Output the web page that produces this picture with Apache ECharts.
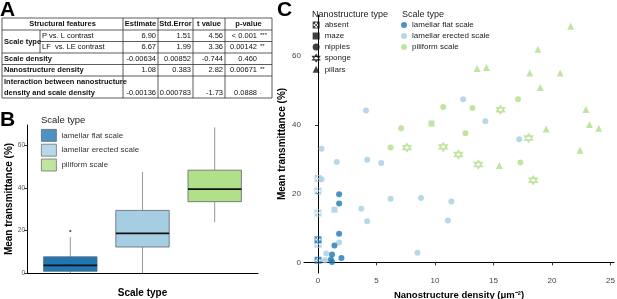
<!DOCTYPE html>
<html>
<head>
<meta charset="utf-8">
<script src="https://cdn.jsdelivr.net/npm/echarts@6/dist/echarts.min.js"></script>
<style>
  html, body { margin: 0; padding: 0; background: #fff; }
  #chart { width: 617px; height: 299px; }
</style>
</head>
<body>
<div id="chart"></div>
<script>
const FONT = '"Liberation Sans", Arial, sans-serif'

// ---- A: model table ----
const tableHeader = ['Structural features', 'Estimate', 'Std.Error', 't value', 'p-value']
const rowLabels = ['P vs. L contrast', 'LF  vs. LE contrast', 'Scale density', 'Nanostructure density', 'Interaction between nanostructure', 'density and scale density']
const estimates = ['6.90', '6.67', '-0.00634', '1.08', '-0.00136']
const stdErrors = ['1.51', '1.99', '0.00852', '0.383', '0.000783']
const tValues = ['4.56', '3.36', '-0.744', '2.82', '-1.73']
const pValues = ['< 0.001', '0.00142', '0.460', '0.00671', '0.0888']
const signif = ['***', '**', '', '**', '.']

// ---- B: boxplot ----
const scaleTypes = ['lamellar flat scale', 'lamellar erected scale', 'piliform scale']
const scaleColors = ['#1f78b4', '#a6cee3', '#b2df8a']
// [lower whisker, Q1, median, Q3, upper whisker]
const boxStats = [
  [0, 0.8, 3.6, 7.6, 17],
  [0, 12.2, 18.6, 29.4, 47.4],
  [23.9, 33.5, 39.4, 48.3, 68.4],
]
const boxOutliers = [[1, 19.7]]

// ---- C: scatter, [density, transmittance] ----
const flatAbsent = [[0, 6.6], [0, 0.6]]
const flatNipples = [[1.8, 19.8], [1.8, 17.1], [1.8, 8.3], [1.4, 4.9], [1.2, 2.3], [1.1, 0.8], [1.2, 0.1], [2.0, 1.3]]
const erectedAbsent = [[0, 24.4], [0, 20.8], [0, 14.4], [0, 5.3]]
const erectedMaze = [[1.4, 15.3]]
const erectedNipples = [[0.3, 33.1], [4.1, 44.2], [12.4, 47.5], [14.3, 41.1], [17.2, 35.8], [1.6, 29.2], [4.2, 29.9], [5.4, 28.9],
  [0.3, 24.2], [6.2, 18.5], [8.8, 18.7], [11.4, 17.7], [3.7, 15.6], [4.2, 12.0], [11.1, 12.2], [1.8, 5.8], [0.7, 2.6], [8.5, 2.8], [0.6, 0.6]]
const piliformMaze = [[9.7, 40.4]]
const piliformNipples = [[17.1, 47.5], [10.7, 45.2], [13.2, 44.9], [7.1, 39.0], [12.6, 37.6], [6.2, 33.4], [17.3, 29.1]]
const piliformSponge = [[15.6, 44.4], [18.0, 36.2], [7.6, 33.4], [10.7, 33.6], [12.0, 31.4], [13.7, 28.5], [18.4, 23.9]]
const piliformPillars = [[21.6, 68.7], [18.8, 62.0], [13.6, 56.4], [14.4, 56.7], [18.1, 55.1], [20.7, 55.1], [19.0, 50.9],
  [22.9, 44.5], [19.5, 38.8], [23.2, 40.1], [24.0, 39.0], [22.4, 32.6], [15.5, 28.2]]

const ABSENT = 'path://M0 0L12 0L12 12L0 12Z M4.5 1.5L4.5 4.5L7.5 4.5L7.5 1.5Z M1.5 4.5L1.5 7.5L4.5 7.5L4.5 4.5Z M7.5 4.5L7.5 7.5L10.5 7.5L10.5 4.5Z M4.5 7.5L4.5 10.5L7.5 10.5L7.5 7.5Z'
const SPONGE = 'path://M6 0L12 9L0 9Z M0 3L12 3L6 12Z'

// table drawn with graphic elements
const colX = [2, 40, 123, 158, 193, 225, 272]
const rowY = [18, 30, 41.5, 53, 64.5, 76, 98]
const table = []
const LINE = { stroke: '#333', lineWidth: 0.8 }
function hline(y, x1, x2) { table.push({ type: 'line', shape: { x1, y1: y, x2, y2: y }, style: LINE }) }
function vline(x, y1, y2) { table.push({ type: 'line', shape: { x1: x, y1, x2: x, y2 }, style: LINE }) }
function txt(text, x, y, extra) {
  table.push({
    type: 'text', x, y,
    style: Object.assign({ text, fontSize: 7.5, fontFamily: FONT, fill: '#111', align: 'left', verticalAlign: 'middle',
      textAlign: 'left', textVerticalAlign: 'middle' }, extra),
  })
}
const bold = { fontWeight: 'bold' }
const right = { align: 'right', textAlign: 'right' }
const center = { align: 'center', textAlign: 'center', fontWeight: 'bold' }

rowY.forEach((y, i) => {
  if (i === 2) hline(y, colX[1], colX[6])
  else hline(y, colX[0], colX[6])
})
vline(colX[0], rowY[0], rowY[6])
vline(colX[1], rowY[1], rowY[3])
for (let c = 2; c < colX.length; c++) vline(colX[c], rowY[0], rowY[6])

txt(tableHeader[0], (colX[0] + colX[2]) / 2, 24, center)
for (let c = 1; c < 5; c++) txt(tableHeader[c], (colX[c + 1] + colX[c + 2]) / 2, 24, center)
txt('Scale type', 4, rowY[2], bold)
txt(rowLabels[0], 42, 36)
txt(rowLabels[1], 42, 47.3)
txt(rowLabels[2], 4, 58.8, bold)
txt(rowLabels[3], 4, 70.3, bold)
txt(rowLabels[4], 4, 82, bold)
txt(rowLabels[5], 4, 93, bold)
const valueY = [36, 47.3, 58.8, 70.3, 93]
valueY.forEach((y, r) => {
  txt(estimates[r], colX[3] - 2, y, right)
  txt(stdErrors[r], colX[4] - 2, y, right)
  txt(tValues[r], colX[5] - 2, y, right)
  txt(pValues[r], 257, y, right)
  if (signif[r]) txt(signif[r], 260, y - 1, { fontSize: 6 })
})

const texts = [
  { type: 'text', x: 0, y: 0, style: { text: 'A', fontSize: 21, fontWeight: 'bold', fontFamily: FONT, fill: '#000' } },
  { type: 'text', x: 0, y: 110, style: { text: 'B', fontSize: 21, fontWeight: 'bold', fontFamily: FONT, fill: '#000' } },
  { type: 'text', x: 277, y: 0, style: { text: 'C', fontSize: 21, fontWeight: 'bold', fontFamily: FONT, fill: '#000' } },
  { type: 'text', x: 41, y: 115, style: { text: 'Scale type', fontSize: 9.5, fontFamily: FONT, fill: '#222' } },
  { type: 'text', x: 312, y: 10, style: { text: 'Nanostructure type', fontSize: 9, fontFamily: FONT, fill: '#222' } },
  { type: 'text', x: 402, y: 10, style: { text: 'Scale type', fontSize: 9, fontFamily: FONT, fill: '#222' } },
]

function pts(list, scaleIdx) {
  return list.map(v => ({ value: v, itemStyle: { color: scaleColors[scaleIdx] } }))
}

const axisLine = { show: true, lineStyle: { color: '#000', width: 1 } }
const boxWidthUnits = 0.74

const chart = echarts.init(document.getElementById('chart'))
chart.setOption({
  animation: false,
  textStyle: { fontFamily: FONT },
  graphic: { elements: table.concat(texts) },
  legend: [
    {
      orient: 'vertical', left: 41, top: 129, padding: 0, itemWidth: 15, itemHeight: 12, itemGap: 2,
      textStyle: { fontSize: 8, color: '#333' },
      data: scaleTypes.map((n, i) => ({ name: n, icon: 'rect', itemStyle: { color: scaleColors[i], borderColor: '#555', borderWidth: 0.8 } })),
    },
    {
      orient: 'vertical', left: 312, top: 21, padding: 0, itemWidth: 7, itemHeight: 7, itemGap: 3,
      textStyle: { fontSize: 8, color: '#222' },
      data: [
        { name: 'absent', icon: ABSENT, itemStyle: { color: '#111' } },
        { name: 'maze', icon: 'rect', itemStyle: { color: '#111' } },
        { name: 'nipples', icon: 'circle', itemStyle: { color: '#111' } },
        { name: 'sponge', icon: SPONGE, itemStyle: { color: 'transparent', borderColor: '#111', borderWidth: 1.3 } },
        { name: 'pillars', icon: 'triangle', itemStyle: { color: '#111' } },
      ],
    },
    {
      orient: 'vertical', left: 401, top: 21, padding: 0, itemWidth: 6, itemHeight: 6, itemGap: 3,
      textStyle: { fontSize: 8, color: '#222' },
      data: scaleTypes.map((n, i) => ({ name: n, icon: 'circle', itemStyle: { color: scaleColors[i] } })),
    },
  ],
  grid: [
    { left: 27, top: 125, width: 231, height: 148, outerBoundsMode: 'none' },
    { left: 304, top: 15, right: 3, bottom: 26, outerBoundsMode: 'none' },
  ],
  xAxis: [
    {
      gridIndex: 0, type: 'value', min: 0.4, max: 3.6,
      axisLine, axisTick: { show: false }, axisLabel: { show: false }, splitLine: { show: false },
      name: 'Scale type', nameLocation: 'middle', nameGap: 15,
      nameTextStyle: { fontSize: 10, fontWeight: 'bold', color: '#000' },
    },
    {
      gridIndex: 1, type: 'value', min: -1.2, max: 25.3,
      axisLine, splitLine: { show: false },
      axisTick: { length: 3, lineStyle: { color: '#333' }, customValues: [0, 5, 10, 15, 20, 25] },
      axisLabel: { fontSize: 8, color: '#444', margin: 4, customValues: [0, 5, 10, 15, 20, 25] },
      name: 'Nanostructure density (μm\u207B\u00B2)', nameLocation: 'middle', nameGap: 16,
      nameTextStyle: { fontSize: 9.5, fontWeight: 'bold', color: '#000' },
    },
  ],
  yAxis: [
    {
      gridIndex: 0, type: 'value', min: 0, max: 69.5,
      axisLine, splitLine: { show: false },
      axisTick: { length: 3, lineStyle: { color: '#333' }, customValues: [0, 20, 40, 60] },
      axisLabel: { fontSize: 6.5, color: '#555', margin: 2, customValues: [0, 20, 40, 60] },
      name: 'Mean transmittance (%)', nameLocation: 'middle', nameGap: 13,
      nameTextStyle: { fontSize: 10, fontWeight: 'bold', color: '#000' },
    },
    {
      gridIndex: 1, type: 'value', min: -3.1, max: 72,
      axisLine, splitLine: { show: false },
      axisTick: { length: 3, lineStyle: { color: '#333' }, customValues: [0, 20, 40, 60] },
      axisLabel: { fontSize: 8, color: '#444', margin: 3, customValues: [0, 20, 40, 60] },
      name: 'Mean transmittance (%)', nameLocation: 'middle', nameGap: 17, nameMoveOverlap: false,
      nameTextStyle: { fontSize: 10, fontWeight: 'bold', color: '#000' },
    },
  ],
  series: [
    {
      type: 'custom', xAxisIndex: 0, yAxisIndex: 0,
      encode: { x: 0, y: [1, 2, 3, 4, 5] },
      data: boxStats.map((s, i) => [i + 1].concat(s)),
      renderItem: (params, api) => {
        const x = api.value(0)
        const pLo = api.coord([x, api.value(1)])
        const pQ1 = api.coord([x, api.value(2)])
        const pMed = api.coord([x, api.value(3)])
        const pQ3 = api.coord([x, api.value(4)])
        const pHi = api.coord([x, api.value(5)])
        const w = api.size([boxWidthUnits, 0])[0]
        const cx = pLo[0]
        const whisker = { stroke: '#8c8c8c', lineWidth: 0.9 }
        return {
          type: 'group',
          children: [
            { type: 'line', shape: { x1: cx, y1: pHi[1], x2: cx, y2: pQ3[1] }, style: whisker },
            { type: 'line', shape: { x1: cx, y1: pQ1[1], x2: cx, y2: pLo[1] }, style: whisker },
            { type: 'rect', shape: { x: cx - w / 2, y: pQ3[1], width: w, height: pQ1[1] - pQ3[1] },
              style: { fill: scaleColors[params.dataIndex], stroke: '#5a6670', lineWidth: 0.8 } },
            { type: 'line', shape: { x1: cx - w / 2, y1: pMed[1], x2: cx + w / 2, y2: pMed[1] }, style: { stroke: '#111', lineWidth: 1.6 } },
          ],
        }
      },
    },
    {
      type: 'scatter', xAxisIndex: 0, yAxisIndex: 0, symbolSize: 2.2,
      itemStyle: { color: '#222' }, data: boxOutliers,
    },
    // C
    {
      name: 'absent', type: 'scatter', xAxisIndex: 1, yAxisIndex: 1, symbol: ABSENT, symbolSize: 7,
      data: pts(erectedAbsent, 1).concat(pts(flatAbsent, 0)),
    },
    {
      name: 'maze', type: 'scatter', xAxisIndex: 1, yAxisIndex: 1, symbol: 'rect', symbolSize: 6,
      data: pts(erectedMaze, 1).concat(pts(piliformMaze, 2)),
    },
    {
      name: 'nipples', type: 'scatter', xAxisIndex: 1, yAxisIndex: 1, symbol: 'circle', symbolSize: 6,
      data: pts(erectedNipples, 1).concat(pts(flatNipples, 0), pts(piliformNipples, 2)),
    },
    {
      name: 'sponge', type: 'scatter', xAxisIndex: 1, yAxisIndex: 1, symbol: SPONGE, symbolSize: 8,
      itemStyle: { color: 'transparent', borderColor: scaleColors[2], borderWidth: 1.4 },
      data: piliformSponge,
    },
    {
      name: 'pillars', type: 'scatter', xAxisIndex: 1, yAxisIndex: 1, symbol: 'triangle', symbolSize: 7,
      data: pts(piliformPillars, 2),
    },
  ].concat(scaleTypes.map((n, i) => ({
    name: n, type: 'scatter', xAxisIndex: 1, yAxisIndex: 1, itemStyle: { color: scaleColors[i] }, data: [],
  }))),
})
</script>
</body>
</html>
